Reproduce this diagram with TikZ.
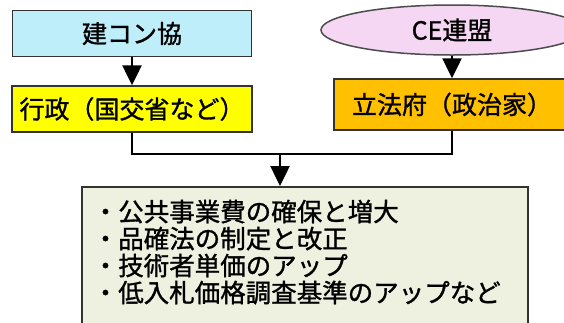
\documentclass[tikz,border=0pt]{standalone}
\usepackage{fontspec}
\setmainfont{Noto Sans CJK JP}[AutoFakeBold=1.2]
\usetikzlibrary{arrows.meta}
\usetikzlibrary{shapes}

\definecolor{kenkonblue}{HTML}{BDEEFA}
\definecolor{gyoseiyellow}{HTML}{FFFF00}
\definecolor{cepink}{HTML}{F5D7F3}
\definecolor{rippoorange}{HTML}{FFC000}
\definecolor{matomegreen}{HTML}{EEF1DF}

\begin{document}
\begin{tikzpicture}[x=1pt,y=-1pt,>={Triangle[length=20pt,width=19pt]}]

\tikzstyle{box}=[rectangle, draw=black!80, line width=1.5pt, font=\fontsize{25}{28}\selectfont\bfseries, minimum height=46pt]
\tikzstyle{oval}=[ellipse, draw=black!70, line width=1.5pt, font=\fontsize{25}{28}\selectfont\bfseries]
\tikzstyle{conn}=[line width=2.5pt]

\useasboundingbox (0,0) rectangle (564,322);

\node[box, fill=kenkonblue, minimum width=239pt] (kenkon) at (132,33.5) {建コン協};
\node[box, fill=gyoseiyellow, minimum width=240pt] (gyosei) at (132,109) {行政（国交省など）};
\node[oval, fill=cepink, minimum width=262pt, minimum height=50pt] (ceren) at (452,30) {CE連盟};
\node[box, fill=rippoorange, minimum width=236pt, minimum height=51pt] (rippo) at (452,104.5) {立法府（政治家）};
\node[box, fill=matomegreen, anchor=north west, inner xsep=11pt, inner ysep=13pt] (matome) at (81,186)
	{\parbox[t][130pt][t]{424pt}{\fontsize{25.5}{27}\selectfont\bfseries
	・公共事業費の確保と増大\\
	・品確法の制定と改正\\
	・技術者単価のアップ\\
	・低入札価格調査基準のアップなど}};

\coordinate (join) at (280,154);

\draw[conn,->] (kenkon) -- (gyosei);
\draw[conn,->] (ceren) -- (rippo);
\draw[conn] (gyosei.south) |- (join) -| (rippo.south);
\draw[conn,->] (join) -- (join |- matome.north);
\end{tikzpicture}
\end{document}
